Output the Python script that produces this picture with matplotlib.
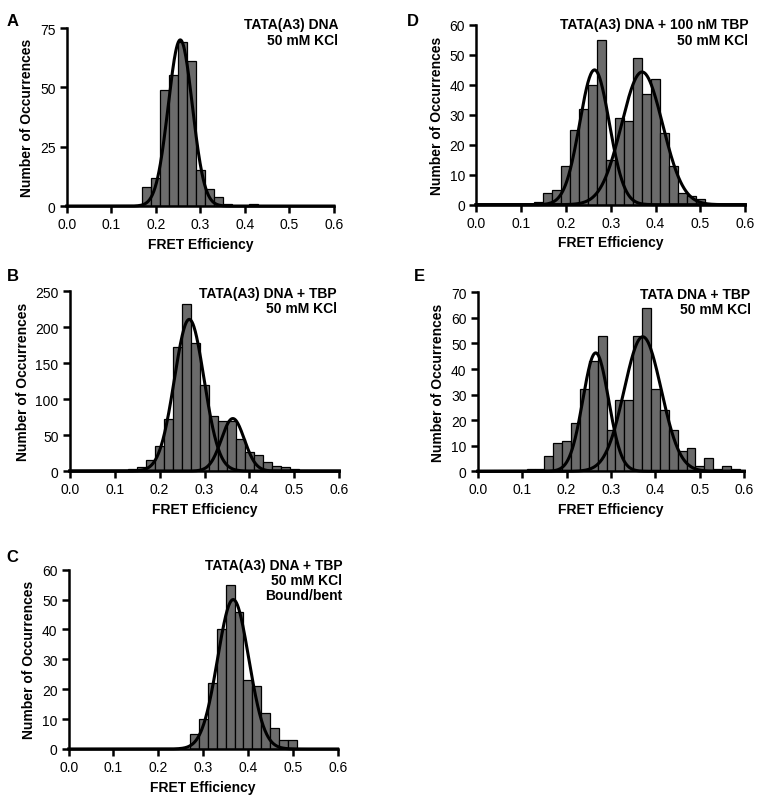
import numpy as np
import matplotlib
matplotlib.use("Agg")
import matplotlib.pyplot as plt

plt.rcParams['font.family'] = ['Liberation Sans', 'DejaVu Sans']

# ---- data (bin centres, width 0.02) ----
a_centers = [0.18, 0.20, 0.22, 0.24, 0.26, 0.28, 0.30, 0.32, 0.34, 0.36, 0.38, 0.40, 0.42]
a_counts = [8, 12, 49, 55, 69, 61, 15, 7, 4, 1, 0, 0, 1]
a_fits = [(70, 0.255, 0.027)]

b_centers = [0.14, 0.16, 0.18, 0.20, 0.22, 0.24, 0.26, 0.28, 0.30, 0.32, 0.34, 0.36,
             0.38, 0.40, 0.42, 0.44, 0.46, 0.48, 0.50]
b_counts = [3, 6, 15, 35, 72, 172, 233, 178, 119, 76, 69, 69, 45, 27, 22, 12, 7, 5, 3]
b_fits = [(211, 0.266, 0.033), (73, 0.363, 0.0255)]

c_centers = [0.28, 0.30, 0.32, 0.34, 0.36, 0.38, 0.40, 0.42, 0.44, 0.46, 0.48, 0.50]
c_counts = [5, 10, 22, 40, 55, 46, 23, 21, 12, 7, 3, 3]
c_fits = [(50, 0.367, 0.0347)]

d_centers = [0.14, 0.16, 0.18, 0.20, 0.22, 0.24, 0.26, 0.28, 0.30, 0.32, 0.34, 0.36,
             0.38, 0.40, 0.42, 0.44, 0.46, 0.48, 0.50]
d_counts = [1, 4, 5, 13, 25, 32, 40, 55, 15, 29, 28, 49, 37, 42, 24, 13, 4, 3, 2]
d_fits = [(45, 0.264, 0.033), (44.3, 0.370, 0.0457)]

e_centers = [0.12, 0.14, 0.16, 0.18, 0.20, 0.22, 0.24, 0.26, 0.28, 0.30, 0.32, 0.34,
             0.36, 0.38, 0.40, 0.42, 0.44, 0.46, 0.48, 0.50, 0.52, 0.54, 0.56, 0.58]
e_counts = [1, 1, 6, 11, 12, 19, 32, 43, 53, 16, 28, 28, 53, 64, 32, 24, 16, 8, 9, 2, 5, 1, 2, 1]
e_fits = [(46.3, 0.2656, 0.0289), (52.6, 0.3714, 0.0417)]

x_ticks = [0.0, 0.1, 0.2, 0.3, 0.4, 0.5, 0.6]
x_ticklabels = ['0.0', '0.1', '0.2', '0.3', '0.4', '0.5', '0.6']

panels = [
    dict(letter='A', centers=a_centers, counts=a_counts, fits=a_fits,
         yticks=[0, 25, 50, 75], ymax=75,
         text='TATA(A3) DNA\n50 mM KCl',
         rect=[0.0875, 0.7425, 0.3508, 0.2214], txy=(0.444, 0.977), lxy=(0.009, 0.982)),
    dict(letter='B', centers=b_centers, counts=b_counts, fits=b_fits,
         yticks=[0, 50, 100, 150, 200, 250], ymax=250,
         text='TATA(A3) DNA + TBP\n50 mM KCl',
         rect=[0.0915, 0.4129, 0.3538, 0.2235], txy=(0.442, 0.643), lxy=(0.009, 0.665)),
    dict(letter='C', centers=c_centers, counts=c_counts, fits=c_fits,
         yticks=[0, 10, 20, 30, 40, 50, 60], ymax=60,
         text='TATA(A3) DNA + TBP\n50 mM KCl\nBound/bent',
         rect=[0.0901, 0.0672, 0.3530, 0.2230], txy=(0.449, 0.305), lxy=(0.009, 0.316)),
    dict(letter='D', centers=d_centers, counts=d_counts, fits=d_fits,
         yticks=[0, 10, 20, 30, 40, 50, 60], ymax=60,
         text='TATA(A3) DNA + 100 nM TBP\n50 mM KCl',
         rect=[0.6247, 0.7442, 0.3534, 0.2235], txy=(0.982, 0.977), lxy=(0.534, 0.982)),
    dict(letter='E', centers=e_centers, counts=e_counts, fits=e_fits,
         yticks=[0, 10, 20, 30, 40, 50, 60, 70], ymax=70,
         text='TATA DNA + TBP\n50 mM KCl',
         rect=[0.6269, 0.4126, 0.3499, 0.2226], txy=(0.985, 0.642), lxy=(0.543, 0.665)),
]

fig = plt.figure(figsize=(7.62, 8.04), dpi=100)
xs = np.linspace(0, 0.6, 600)

for p in panels:
    ax = fig.add_axes(p['rect'])
    ax.bar(p['centers'], p['counts'], width=0.02, color='#6b6b6b',
           edgecolor='black', linewidth=0.9, zorder=2)
    for amp, mu, sig in p['fits']:
        ax.plot(xs, amp * np.exp(-(xs - mu) ** 2 / (2 * sig ** 2)),
                color='black', lw=2.2, zorder=3, clip_on=False)
    ax.set_xlim(0, 0.6)
    ax.set_ylim(0, p['ymax'])
    ax.set_xticks(x_ticks)
    ax.set_xticklabels(x_ticklabels)
    ax.set_yticks(p['yticks'])
    for s in ['top', 'right']:
        ax.spines[s].set_visible(False)
    for s in ['left', 'bottom']:
        ax.spines[s].set_linewidth(1.8)
    ax.tick_params(direction='out', length=5, width=1.8, labelsize=10, pad=3)
    ax.set_xlabel('FRET Efficiency', fontsize=10, fontweight='bold', labelpad=4)
    ax.set_ylabel('Number of Occurrences', fontsize=10, fontweight='bold', labelpad=4)
    fig.text(p['txy'][0], p['txy'][1], p['text'], ha='right', va='top',
             fontsize=10, fontweight='bold', linespacing=1.1)
    fig.text(p['lxy'][0], p['lxy'][1], p['letter'], ha='left', va='top',
             fontsize=12, fontweight='bold')

fig.savefig('out.png', dpi=100)
